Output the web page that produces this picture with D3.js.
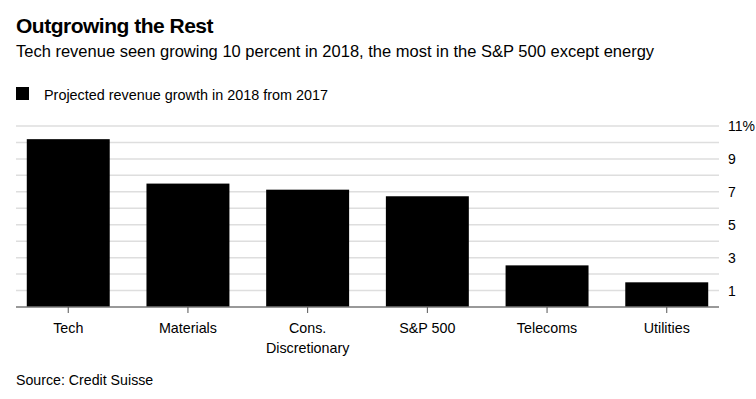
<!DOCTYPE html>
<html>
<head>
<meta charset="utf-8">
<script src="https://cdn.jsdelivr.net/npm/d3@7"></script>
<style>
  body { margin: 0; background: #fff; }
  svg { display: block; font-family: "Liberation Sans", Arial, sans-serif; }
</style>
</head>
<body>
<div id="chart"></div>
<script>
// Données
const categories = ['Tech', 'Materials', 'Cons.\nDiscretionary', 'S&P 500', 'Telecoms', 'Utilities'];
const growth = [10.2, 7.5, 7.13, 6.73, 2.53, 1.5];
const yTicks = [1, 3, 5, 7, 9, 11];
const gridValues = [1, 2, 3, 4, 5, 6, 7, 8, 9, 10, 11];

const width = 756, height = 399;
const margin = { top: 126, right: 37, bottom: 92, left: 16 };

const svg = d3.select('#chart').append('svg')
    .attr('width', width)
    .attr('height', height);

// Titres
svg.append('text')
    .attr('x', 16).attr('y', 33)
    .style('font-size', '21px')
    .style('font-weight', 'bold')
    .style('letter-spacing', '-0.5px')
    .text('Outgrowing the Rest');

svg.append('text')
    .attr('x', 16).attr('y', 57)
    .style('font-size', '16.5px')
    .text('Tech revenue seen growing 10 percent in 2018, the most in the S&P 500 except energy');

// Légende
svg.append('rect')
    .attr('x', 16).attr('y', 87)
    .attr('width', 13).attr('height', 13)
    .attr('fill', '#000');
svg.append('text')
    .attr('x', 44).attr('y', 99.5)
    .style('font-size', '14.4px')
    .text('Projected revenue growth in 2018 from 2017');

// Échelles
const x = d3.scaleBand()
    .domain(categories)
    .range([margin.left, width - margin.right])
    .paddingInner(0.307)
    .paddingOuter(0.09);

const y = d3.scaleLinear()
    .domain([0, 11])
    .range([height - margin.bottom, margin.top]);

// Grille
svg.append('g')
    .selectAll('line')
    .data(gridValues)
    .join('line')
    .attr('x1', margin.left)
    .attr('x2', width - margin.right)
    .attr('y1', d => y(d))
    .attr('y2', d => y(d))
    .attr('stroke', '#dedede')
    .attr('stroke-width', 1.5);

// Barres
svg.append('g')
    .selectAll('rect')
    .data(categories)
    .join('rect')
    .attr('x', d => x(d))
    .attr('y', (d, i) => y(growth[i]))
    .attr('width', x.bandwidth())
    .attr('height', (d, i) => y(0) - y(growth[i]))
    .attr('fill', '#000');

// Axe Y (droite)
const yAxis = svg.append('g')
    .attr('transform', `translate(${width - margin.right},0)`)
    .call(d3.axisRight(y).tickValues(yTicks).tickSize(0).tickPadding(9)
        .tickFormat(d => d === 11 ? '11%' : d));
yAxis.select('.domain').remove();
yAxis.selectAll('text')
    .style('font-size', '14px')
    .style('font-family', '"Liberation Sans", Arial, sans-serif')
    .attr('fill', '#000');

// Axe X
const xAxis = svg.append('g')
    .attr('transform', `translate(0,${y(0)})`)
    .call(d3.axisBottom(x).tickSize(6).tickFormat(''));
xAxis.select('.domain')
    .attr('d', `M${margin.left},0H${width - margin.right}`)
    .attr('stroke', '#777')
    .attr('stroke-width', 1.5);
xAxis.selectAll('.tick line').attr('stroke', '#555');

// Labels multi-lignes
xAxis.selectAll('.tick').each(function(d) {
    const t = d3.select(this).append('text')
        .attr('fill', '#000')
        .attr('text-anchor', 'middle')
        .style('font-size', '14.3px')
        .style('font-family', '"Liberation Sans", Arial, sans-serif');
    d.split('\n').forEach((line, i) => {
        t.append('tspan')
            .attr('x', 0)
            .attr('y', 25.5 + i * 20.5)
            .text(line);
    });
});

// Source
svg.append('text')
    .attr('x', 16).attr('y', 385)
    .style('font-size', '14.2px')
    .text('Source: Credit Suisse');
</script>
</body>
</html>
